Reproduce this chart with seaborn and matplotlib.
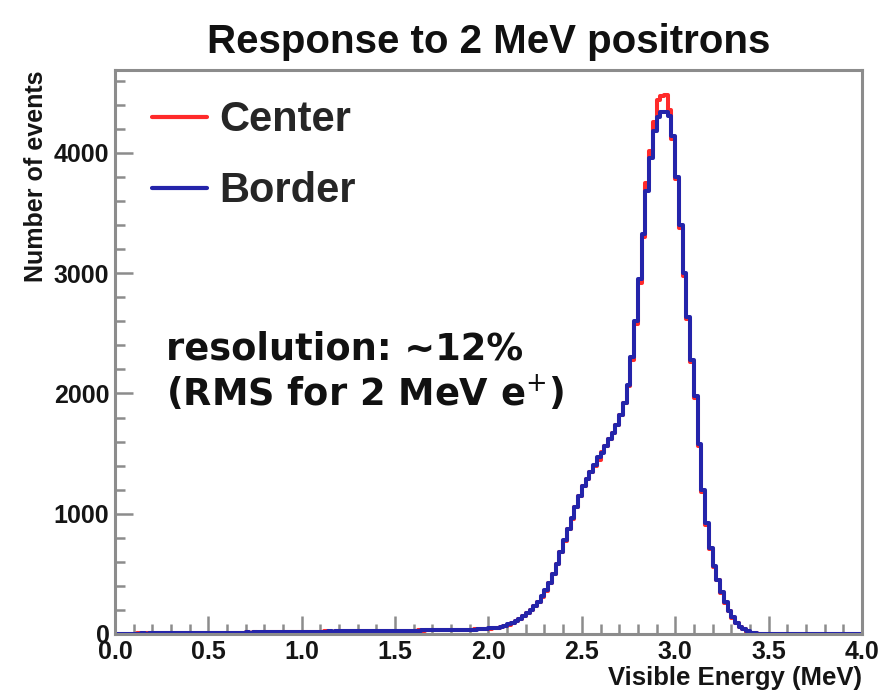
import matplotlib
matplotlib.use("Agg")
import matplotlib.pyplot as plt
from matplotlib.lines import Line2D
from matplotlib.ticker import MultipleLocator
import numpy as np
import pandas as pd
import seaborn as sns

# histogram: 200 bins of 0.02 MeV from 0 to 4 MeV
bin_edges = np.linspace(0.0, 4.0, 201)
bin_centers = 0.5 * (bin_edges[:-1] + bin_edges[1:])

center_counts = [
    2, 3, 3, 4, 3, 4, 5, 4, 5, 5,
    6, 5, 6, 7, 6, 7, 6, 8, 7, 8,
    8, 7, 9, 8, 9, 10, 9, 10, 11, 10,
    11, 10, 12, 11, 12, 13, 12, 13, 12, 14,
    13, 14, 15, 14, 15, 16, 15, 16, 17, 16,
    18, 17, 19, 18, 20, 19, 21, 20, 19, 21,
    22, 21, 23, 22, 24, 23, 22, 24, 25, 24,
    25, 26, 24, 27, 26, 28, 27, 26, 28, 29,
    28, 30, 29, 31, 30, 32, 31, 33, 32, 34,
    33, 35, 34, 36, 37, 36, 38, 39, 40, 42,
    45, 48, 52, 58, 66, 78, 92, 108, 126, 148,
    172, 200, 232, 268, 310, 360, 420, 495, 580, 680,
    775, 870, 960, 1060, 1150, 1230, 1290, 1350, 1400, 1450,
    1510, 1560, 1620, 1670, 1740, 1820, 1920, 2060, 2280, 2580,
    2920, 3300, 3750, 4020, 4260, 4440, 4470, 4480, 4360, 4120,
    3780, 3380, 2980, 2620, 2260, 1960, 1560, 1180, 910, 710,
    560, 445, 345, 260, 190, 135, 92, 60, 38, 20,
    10, 5, 3, 2, 1, 1, 1, 0, 1, 0,
    0, 1, 0, 0, 0, 0, 0, 0, 0, 0,
    0, 0, 0, 0, 0, 0, 0, 0, 0, 0,
]

border_counts = [
    3, 2, 4, 3, 4, 3, 4, 5, 4, 6,
    5, 6, 5, 6, 7, 6, 8, 7, 7, 8,
    9, 8, 8, 9, 10, 9, 10, 9, 10, 11,
    10, 12, 11, 12, 11, 13, 12, 14, 13, 13,
    14, 13, 14, 15, 16, 15, 16, 15, 16, 17,
    17, 18, 18, 19, 19, 20, 20, 21, 20, 22,
    21, 22, 22, 23, 23, 24, 23, 25, 24, 25,
    26, 25, 27, 26, 27, 27, 28, 27, 29, 28,
    29, 29, 30, 30, 31, 31, 32, 32, 33, 33,
    34, 34, 35, 35, 36, 37, 37, 39, 41, 43,
    46, 49, 53, 59, 67, 79, 93, 109, 127, 150,
    174, 203, 235, 270, 312, 362, 423, 498, 585, 684,
    778, 872, 962, 1058, 1148, 1228, 1288, 1345, 1405, 1470,
    1505, 1565, 1622, 1672, 1742, 1822, 1925, 2070, 2300, 2600,
    2950, 3330, 3680, 3960, 4180, 4300, 4340, 4340, 4310, 4140,
    3800, 3400, 3000, 2640, 2280, 1975, 1580, 1195, 920, 715,
    565, 450, 350, 265, 195, 140, 95, 62, 40, 22,
    11, 6, 3, 2, 2, 1, 1, 1, 0, 1,
    0, 0, 1, 0, 0, 0, 0, 0, 0, 0,
    0, 0, 0, 0, 0, 0, 0, 0, 0, 0,
]

series_names = ["Center", "Border"]
series_colors = ["#ff2a2a", "#2424aa"]

x_ticks = [0.0, 0.5, 1.0, 1.5, 2.0, 2.5, 3.0, 3.5, 4.0]
y_ticks = [0, 1000, 2000, 3000, 4000]

sns.set_style("white")
plt.rcParams["font.family"] = ["Liberation Sans", "DejaVu Sans"]
plt.rcParams["mathtext.fontset"] = "dejavusans"

fig = plt.figure(figsize=(8.9, 6.98), dpi=100)
ax = fig.add_axes([0.1292, 0.0917, 0.8393, 0.808])

# red first, blue drawn on top of it
for name, counts, color in zip(series_names, [center_counts, border_counts], series_colors):
    df = pd.DataFrame({"energy": bin_centers, "count": counts})
    sns.histplot(
        data=df,
        x="energy",
        weights="count",
        bins=list(bin_edges),
        element="step",
        fill=False,
        color=color,
        linewidth=2.9,
        ax=ax,
    )

ax.set_xlim(0.0, 4.0)
ax.set_ylim(0, 4690)
ax.set_xticks(x_ticks)
ax.set_xticklabels([f"{t:.1f}" for t in x_ticks])
ax.set_yticks(y_ticks)
ax.set_yticklabels([str(t) for t in y_ticks])
ax.xaxis.set_minor_locator(MultipleLocator(0.1))
ax.yaxis.set_minor_locator(MultipleLocator(200))

frame_gray = "#8c8c8c"
for spine in ["top", "right", "bottom", "left"]:
    ax.spines[spine].set_visible(True)
    ax.spines[spine].set_color(frame_gray)
    ax.spines[spine].set_linewidth(2.2)

ax.tick_params(axis="both", which="both", bottom=True, left=True, top=False, right=False)
ax.tick_params(axis="both", which="major", direction="in", length=13, width=1.8,
               color=frame_gray, labelsize=18, pad=4)
ax.tick_params(axis="both", which="minor", direction="in", length=7, width=1.8,
               color=frame_gray)
for lab in ax.get_xticklabels() + ax.get_yticklabels():
    lab.set_fontweight("bold")
    lab.set_color("#151515")

ax.set_xlabel("Visible Energy (MeV)", fontsize=18.5, fontweight="bold",
              color="#151515", loc="right", labelpad=2)
ax.set_ylabel("Number of events", fontsize=18, fontweight="bold",
              color="#151515", loc="top", labelpad=4)

ax.set_title("Response to 2 MeV positrons", fontsize=29, fontweight="bold",
             color="#111111", pad=12)

handles = [Line2D([0], [0], color=c, linewidth=3) for c in series_colors]
ax.legend(handles, series_names, loc="upper left", bbox_to_anchor=(0.0, 1.013),
          frameon=False, handlelength=1.3, handletextpad=0.3, labelspacing=0.75,
          prop={"family": "Liberation Sans", "weight": "bold", "size": 30})

ax.text(0.068, 0.538, "resolution: ~12%\n(RMS for 2 MeV e$^{+}$)",
        transform=ax.transAxes, fontsize=26.5, fontweight="bold",
        family="DejaVu Sans", color="#111111", va="top", ha="left",
        linespacing=1.2)

plt.savefig("out.png", dpi=100)
